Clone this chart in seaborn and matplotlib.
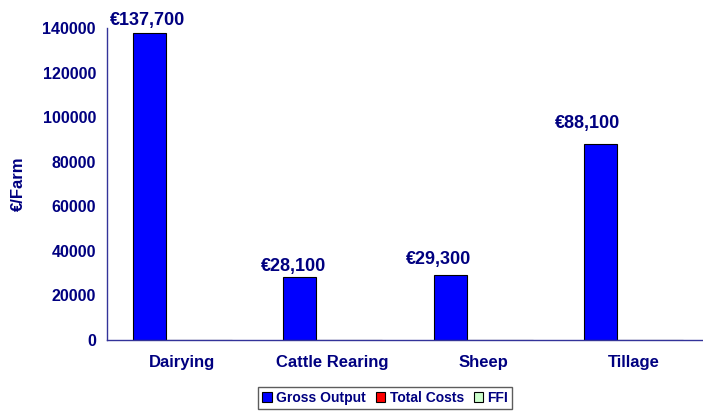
import numpy as np
import pandas as pd
import seaborn as sns
import matplotlib.pyplot as plt

# data
categories = ['Dairying', 'Cattle Rearing', 'Sheep', 'Tillage']
series = ['Gross Output', 'Total Costs', 'FFI']
gross_output = [137700, 28100, 29300, 88100]
total_costs = [0, 0, 0, 0]
ffi = [0, 0, 0, 0]
bar_labels = ['€137,700', '€28,100', '€29,300', '€88,100']
y_ticks = [0, 20000, 40000, 60000, 80000, 100000, 120000, 140000]

# label nudges (points) - labels were placed by hand in the original
label_dx = [-1.5, -4.5, -8.5, -9.5]
label_dy = [6, 4.5, 8, 11]

navy = '#000080'
axis_col = '#333399'
colors = ['#0000FF', '#FF0000', '#CCFFCC']

df = pd.DataFrame({
    'category': categories * 3,
    'series': np.repeat(series, len(categories)),
    'value': gross_output + total_costs + ffi,
})

sns.set_style('white')
plt.rcParams['font.family'] = ['Liberation Sans', 'DejaVu Sans']
plt.rcParams['font.weight'] = 'bold'

fig = plt.figure(figsize=(7.03, 4.11), dpi=100)
ax = fig.add_axes([0.1522, 0.1727, 0.8563, 0.7592])

sns.barplot(data=df, x='category', y='value', hue='series', order=categories,
            hue_order=series, palette=colors, width=0.66, edgecolor='black',
            linewidth=0.8, saturation=1, legend=False, ax=ax)

ax.set_xlim(-0.5, 3.5)
ax.set_ylim(0, 140000)
ax.set_yticks(y_ticks)
ax.set_yticklabels([str(v) for v in y_ticks], fontsize=11.5, fontweight='bold', color=navy)

# ticks at category boundaries, labels at centres
ax.set_xticks([-0.5, 0.5, 1.5, 2.5, 3.5])
ax.set_xticklabels([])
ax.set_xticks(range(len(categories)), minor=True)
ax.set_xticklabels(categories, minor=True, fontsize=12, fontweight='bold', color=navy)
ax.tick_params(axis='x', which='minor', length=0, pad=11)
ax.tick_params(axis='x', which='major', length=5, color=axis_col, direction='out')
ax.tick_params(axis='y', length=5, color=axis_col, direction='out', pad=3)

ax.set_xlabel('')
ax.set_ylabel('€/Farm', fontsize=12, fontweight='bold', color=navy, labelpad=12)

for s in ['top', 'right']:
    ax.spines[s].set_visible(False)
for s in ['left', 'bottom']:
    ax.spines[s].set_color(axis_col)
    ax.spines[s].set_linewidth(1)

# value labels above the Gross Output bars
for i, (v, lab) in enumerate(zip(gross_output, bar_labels)):
    ax.annotate(lab, (i - 0.22, v), xytext=(label_dx[i], label_dy[i]),
                textcoords='offset points', ha='center', va='baseline',
                fontsize=13, fontweight='bold', color=navy, annotation_clip=False)

handles = [plt.Rectangle((0, 0), 1, 1, facecolor=c, edgecolor='black', linewidth=0.8)
           for c in colors]
leg = fig.legend(handles, series, loc='center', bbox_to_anchor=(0.548, 0.032), ncol=3,
                 fontsize=10, frameon=True, fancybox=False, handlelength=0.7,
                 handleheight=0.7, handletextpad=0.3, columnspacing=0.7,
                 borderpad=0.3, borderaxespad=0)
leg.get_frame().set_edgecolor('#333333')
leg.get_frame().set_linewidth(1)
for t in leg.get_texts():
    t.set_color(navy)
    t.set_fontweight('bold')

fig.savefig('out.png', dpi=100)
